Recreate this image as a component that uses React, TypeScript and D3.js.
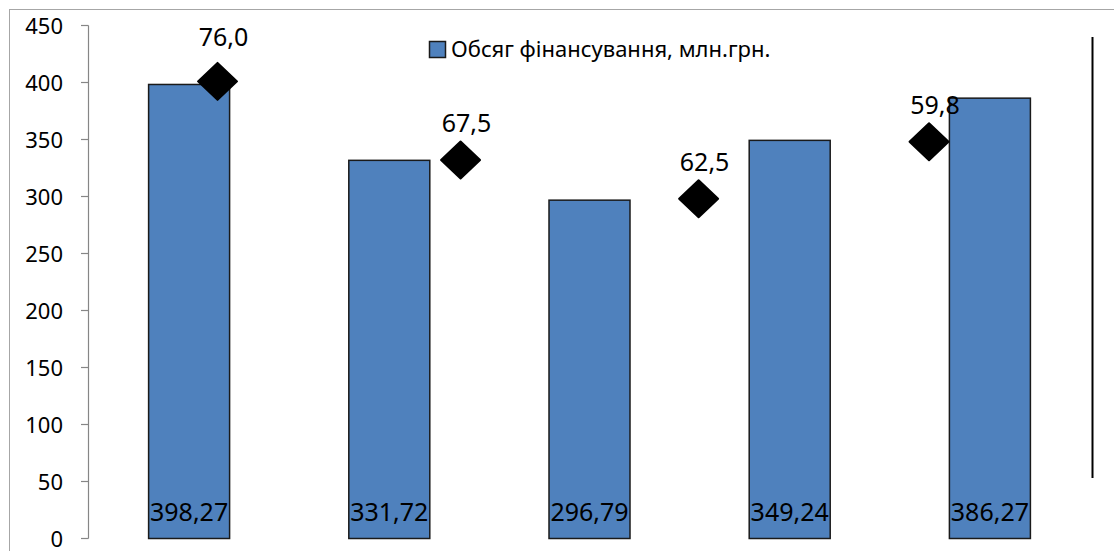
import React from "react";
import * as d3 from "d3";

// ---- data ----
const categories = ["I", "II", "III", "IV", "V"];
const fundingValues = [398.27, 331.72, 296.79, 349.24, 386.27];
const seriesName = "Обсяг фінансування, млн.грн.";
const markerCategoryPos = [0.142, 1.356, 2.545, 3.696];
const markerLevels = [401, 332, 298, 348];
const markerValues = [76.0, 67.5, 62.5, 59.8];
const yTicks = [0, 50, 100, 150, 200, 250, 300, 350, 400, 450];

const W = 1114;
const H = 551;
const FONT = "'Noto Sans', 'Open Sans', sans-serif";
const labelLift = [35, 28, 28, 28];

const fmt = (v: number, d: number) => v.toFixed(d).replace(".", ",");

export default function App() {
  const x = d3.scaleLinear().domain([-0.5, categories.length - 0.5]).range([89, 1090]);
  const y = d3.scaleLinear().domain([0, 450]).range([538.5, 25.5]);
  const barW = 81;
  const dx = 19.5;
  const dy = 18.5;

  return (
    <svg
      width={W}
      height={H}
      style={{ position: "absolute", left: 0, top: 0, background: "#fff" }}
      fontFamily={FONT}
    >
      {/* chart frame */}
      <rect x={9.5} y={9.5} width={W + 20} height={H + 20} fill="#fff" stroke="#a6a6a6" strokeWidth={1} />

      {/* y axis */}
      <line x1={88.5} x2={88.5} y1={y(450)} y2={y(0)} stroke="#868686" strokeWidth={1.2} />
      {yTicks.map((t) => (
        <g key={t}>
          <line x1={81} x2={88.5} y1={y(t)} y2={y(t)} stroke="#868686" strokeWidth={1.2} />
          <text x={63} y={y(t) + 8} textAnchor="end" fontSize={22} fill="#000">
            {t}
          </text>
        </g>
      ))}

      {/* bars */}
      {fundingValues.map((v, i) => (
        <g key={categories[i]}>
          <rect
            x={x(i) - barW / 2}
            y={y(v)}
            width={barW}
            height={y(0) - y(v)}
            fill="#4f81bd"
            stroke="#1a1a1a"
            strokeWidth={1.5}
          />
          <text x={x(i)} y={521} textAnchor="middle" fontSize={25} fill="#000">
            {fmt(v, 2)}
          </text>
        </g>
      ))}

      {/* markers */}
      {markerValues.map((v, i) => {
        const cx = x(markerCategoryPos[i]);
        const cy = y(markerLevels[i]);
        const d = `M${cx},${cy - dy}L${cx + dx},${cy}L${cx},${cy + dy}L${cx - dx},${cy}Z`;
        return (
          <g key={i}>
            <path d={d} fill="#000" stroke="#000" strokeWidth={2} strokeLinejoin="round" />
            <text x={cx + 6} y={cy - labelLift[i]} textAnchor="middle" fontSize={25} fill="#000">
              {fmt(v, 1)}
            </text>
          </g>
        );
      })}

      {/* legend */}
      <rect x={429.5} y={41.5} width={16} height={16} fill="#4f81bd" stroke="#1a1a1a" strokeWidth={1.5} />
      <text x={451} y={57} fontSize={22} fill="#000">
        {seriesName}
      </text>

      {/* right vertical line */}
      <line x1={1092.5} x2={1092.5} y1={37} y2={478} stroke="#000" strokeWidth={2} />
    </svg>
  );
}
